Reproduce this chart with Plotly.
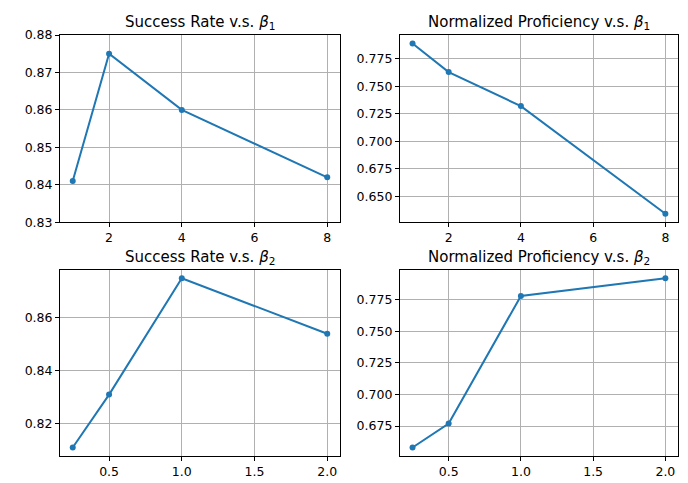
import plotly.graph_objects as go

beta1 = [1, 2, 4, 8]
sr_beta1 = [0.841, 0.875, 0.860, 0.842]
np_beta1 = [0.789, 0.763, 0.732, 0.634]

beta2 = [0.25, 0.5, 1.0, 2.0]
sr_beta2 = [0.811, 0.831, 0.875, 0.854]
np_beta2 = [0.658, 0.677, 0.778, 0.792]

titles = [
    "Success Rate v.s. <i>β</i><sub>1</sub>",
    "Normalized Proficiency v.s. <i>β</i><sub>1</sub>",
    "Success Rate v.s. <i>β</i><sub>2</sub>",
    "Normalized Proficiency v.s. <i>β</i><sub>2</sub>",
]

COLOR = "#1f77b4"
FONT = "DejaVu Sans"

fig = go.Figure()

series = [
    (beta1, sr_beta1, "x", "y"),
    (beta1, np_beta1, "x2", "y2"),
    (beta2, sr_beta2, "x3", "y3"),
    (beta2, np_beta2, "x4", "y4"),
]
for xs, ys, xa, ya in series:
    fig.add_trace(go.Scatter(
        x=xs, y=ys, xaxis=xa, yaxis=ya, mode="lines+markers",
        line=dict(color=COLOR, width=2),
        marker=dict(color=COLOR, size=6),
        showlegend=False,
    ))

def pad(vals, frac=0.05):
    lo, hi = min(vals), max(vals)
    m = (hi - lo) * frac
    return [lo - m, hi + m]

common = dict(
    showline=True, linecolor="black", linewidth=1, mirror=True,
    showgrid=True, gridcolor="#b0b0b0", gridwidth=0.8,
    ticks="outside", ticklen=4, tickwidth=1, tickcolor="black",
    zeroline=False, tickfont=dict(family=FONT, size=12.5, color="black"),
)

xl = [0, 0.453]
xr = [0.550, 1]
yt = [0.5553, 1]
yb = [0, 0.4424]

fig.update_layout(
    width=688, height=483,
    margin=dict(l=52, r=18, t=27, b=22),
    plot_bgcolor="white", paper_bgcolor="white",
    font=dict(family=FONT, size=12.5, color="black"),
    xaxis=dict(domain=xl, anchor="y", range=pad(beta1), tick0=0, dtick=2, **common),
    yaxis=dict(domain=yt, anchor="x", range=[0.83, 0.88], tick0=0.83, dtick=0.01, tickformat=".2f", **common),
    xaxis2=dict(domain=xr, anchor="y2", range=pad(beta1), tick0=0, dtick=2, **common),
    yaxis2=dict(domain=yt, anchor="x2", range=pad(np_beta1), tick0=0.65, dtick=0.025, tickformat=".3f", **common),
    xaxis3=dict(domain=xl, anchor="y3", range=pad(beta2), tick0=0, dtick=0.5, tickformat=".1f", **common),
    yaxis3=dict(domain=yb, anchor="x3", range=pad(sr_beta2), tick0=0.8, dtick=0.02, tickformat=".2f", **common),
    xaxis4=dict(domain=xr, anchor="y4", range=pad(beta2), tick0=0, dtick=0.5, tickformat=".1f", **common),
    yaxis4=dict(domain=yb, anchor="x4", range=pad(np_beta2), tick0=0.65, dtick=0.025, tickformat=".3f", **common),
)

refs = [("x", "y"), ("x2", "y2"), ("x3", "y3"), ("x4", "y4")]
for t, (xa, ya) in zip(titles, refs):
    fig.add_annotation(
        text=t, xref=f"{xa} domain", yref=f"{ya} domain", x=0.5, y=1,
        xanchor="center", yanchor="bottom", yshift=2, borderpad=0, showarrow=False,
        font=dict(family=FONT, size=15, color="black"),
    )

fig.write_html("out.html")
